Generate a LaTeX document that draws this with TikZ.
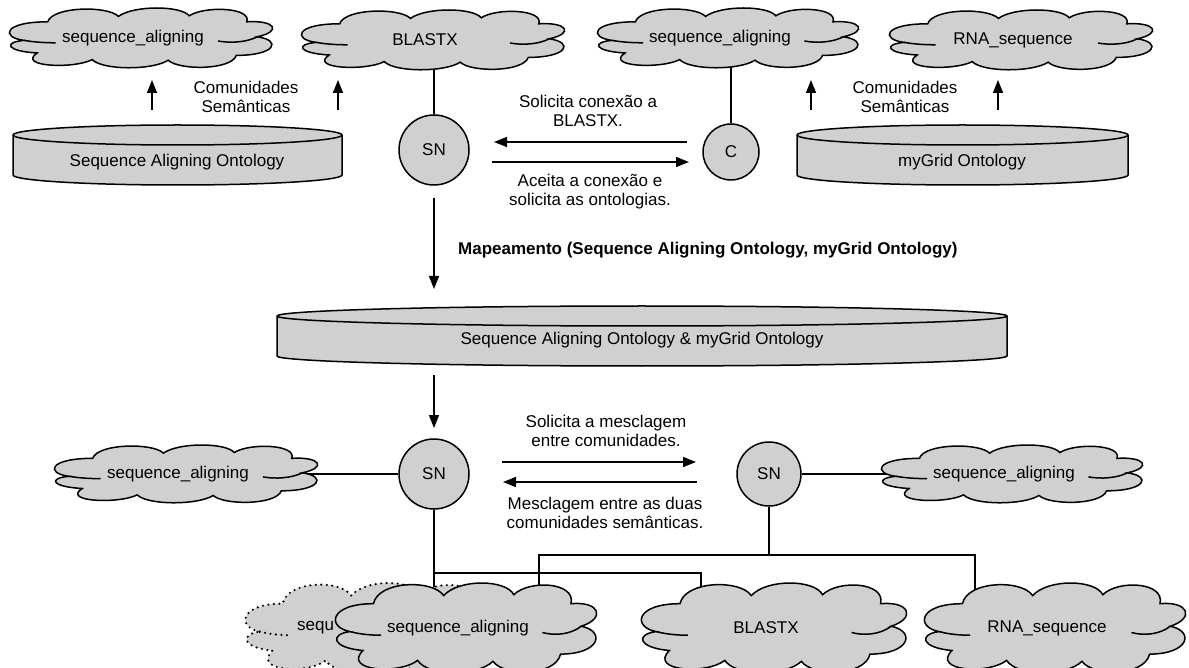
\documentclass[tikz,border=0pt]{standalone}
\usepackage{fontspec}
\setmainfont{Liberation Sans}
\usepackage{tikz}
\usetikzlibrary{arrows.meta, positioning, backgrounds}

\definecolor{cinza}{RGB}{208,208,208}

\tikzset{
  rotulo/.style={font=\fontsize{17}{19}\selectfont, align=center, inner sep=0pt},
  contorno/.style={draw=black, line width=1.5pt, fill=cinza},
  fantasma/.style={dash pattern=on 0pt off 5.5pt, line cap=round, line width=2.4pt},
  circulo/.style={circle, draw=black, line width=1.5pt, fill=cinza, inner sep=0pt,
    font=\fontsize{17}{19}\selectfont},
  seta/.style={line width=1.5pt, -{Triangle[length=13pt, width=10pt]}},
  linha/.style={line width=1.5pt},
}

% contorno da nuvem em unidades (-1..1)
\newcommand{\formanuvem}{%
  (-0.90,-0.08) .. controls (-1.08,0.02) and (-1.06,0.54) .. (-0.72,0.54)
  .. controls (-0.68,1.06) and (-0.26,1.08) .. (-0.18,0.72)
  .. controls (-0.06,1.10) and (0.30,1.08) .. (0.36,0.74)
  .. controls (0.48,1.08) and (0.84,1.02) .. (0.80,0.54)
  .. controls (1.02,0.60) and (1.07,0.22) .. (0.88,0.04)
  .. controls (1.07,-0.08) and (1.02,-0.58) .. (0.72,-0.58)
  .. controls (0.68,-1.08) and (0.28,-1.08) .. (0.20,-0.74)
  .. controls (0.08,-1.08) and (-0.30,-1.08) .. (-0.38,-0.72)
  .. controls (-0.52,-1.04) and (-0.96,-0.96) .. (-0.80,-0.50)
  .. controls (-1.04,-0.44) and (-1.06,-0.14) .. (-0.90,-0.08) -- cycle}
\newcommand{\ganchosnuvem}{%
  (-0.90,-0.08) .. controls (-0.82,-0.14) and (-0.74,-0.16) .. (-0.66,-0.16)
  (0.88,0.04) .. controls (0.80,-0.14) and (0.68,-0.18) .. (0.58,-0.10)}

% \nuvem[estilo]{nome}{x,y}{meia largura}{meia altura}{texto}
\newcommand{\nuvem}[6][]{%
  \begin{scope}[shift={(#3)}, x=#4pt, y=#5pt]
    \filldraw[contorno, #1] \formanuvem;
    \draw[linha, #1] \ganchosnuvem;
  \end{scope}
  \node[rotulo, xshift=-9pt] (#2) at (#3) {#6};
}

% \cilindro{x esq}{x dir}{centro elipse de cima}{centro elipse de baixo}
\newcommand{\cilindro}[4]{%
  \filldraw[contorno] (#1,#3) -- (#1,#4)
    arc[start angle=180, end angle=360, x radius={(#2-#1)/2}, y radius=10]
    -- (#2,#3)
    arc[start angle=0, end angle=180, x radius={(#2-#1)/2}, y radius=10] -- cycle;
  \draw[linha] (#1,#3)
    arc[start angle=180, end angle=360, x radius={(#2-#1)/2}, y radius=10];
}

\begin{document}
\begin{tikzpicture}[x=1pt, y=1pt]
  \useasboundingbox (0,0) rectangle (1189,-668);

  % Ontologias
  \cilindro{13}{342}{-135}{-175}
  \cilindro{797}{1128}{-135}{-175}
  \cilindro{277}{1007}{-316}{-356}
  \node[rotulo] (ontsa) at (177,-162) {Sequence Aligning Ontology};
  \node[rotulo] (ontmg) at (962,-162) {myGrid Ontology};
  \node[rotulo] (ontmix) at (642,-340) {Sequence Aligning Ontology \& myGrid Ontology};

  % Comunidades semanticas (linha de cima)
  \nuvem{tc1}{142,-38}{131}{30}{sequence\_aligning}
  \nuvem{tc2}{434,-40}{131}{30}{BLASTX}
  \nuvem{tc3}{729,-38}{130}{30}{sequence\_aligning}
  \nuvem{tc4}{1022,-40}{131}{30}{RNA\_sequence}

  \foreach \x [count=\i] in {152, 338, 811, 998} {
    \coordinate (cb\i) at (\x,-110);
    \coordinate (ct\i) at (\x,-80);
    \draw[seta] (cb\i) -- (ct\i);
  }
  \node[rotulo] (com1) at (246,-97) {Comunidades\\Semânticas};
  \node[rotulo] (com2) at (905,-97) {Comunidades\\Semânticas};

  % Conexao SN - C
  \node[circulo, minimum size=70pt] (sn1) at (434,-150) {SN};
  \node[circulo, minimum size=56pt] (c1) at (731,-152) {C};

  \coordinate (s1a) at (687,-142);
  \coordinate (s1b) at (494,-142);
  \coordinate (s2a) at (492,-162);
  \coordinate (s2b) at (689,-162);
  \draw[seta] (s1a) -- (s1b);
  \draw[seta] (s2a) -- (s2b);
  \node[rotulo] (msg1) at (588,-111) {Solicita conexão a\\BLASTX.};
  \node[rotulo] (msg2) at (590,-192) {Aceita a conexão e\\solicita as ontologias.};

  % Mapeamento
  \coordinate (mapa) at (434,-289);
  \draw[seta] ([yshift=-12pt]sn1.south) -- (mapa);
  \node[rotulo, font=\fontsize{17}{19}\selectfont\bfseries, anchor=west] (mapt) at (458,-250)
    {Mapeamento (Sequence Aligning Ontology, myGrid Ontology)};

  \coordinate (mesa) at (434,-375);
  \coordinate (mesb) at (434,-428);
  \draw[seta] (mesa) -- (mesb);

  % Mesclagem
  \node[circulo, minimum size=70pt] (sn3) at (434,-474) {SN};
  \node[circulo, minimum size=64pt] (sn4) at (769,-474) {SN};
  \nuvem{mc1}{187,-474}{131}{29}{sequence\_aligning}
  \nuvem{mc2}{1013,-474}{130}{29}{sequence\_aligning}

  \coordinate (m1a) at (502,-462);
  \coordinate (m1b) at (696,-462);
  \coordinate (m2a) at (697,-482);
  \coordinate (m2b) at (503,-482);
  \draw[seta] (m1a) -- (m1b);
  \draw[seta] (m2a) -- (m2b);
  \node[rotulo] (msg3) at (606,-431) {Solicita a mesclagem\\entre comunidades.};
  \node[rotulo] (msg4) at (605,-513) {Mesclagem entre as duas\\comunidades semânticas.};

  % Linha de baixo
  \nuvem[fantasma]{bg}{374,-628}{127}{45}{}
  \node[rotulo, anchor=west] (bgt) at (297,-628) {sequ};
  \nuvem{ba1}{467,-628}{130}{45}{sequence\_aligning}
  \nuvem{ba2}{775,-628}{132}{45}{BLASTX}
  \nuvem{ba3}{1056,-628}{130}{45}{RNA\_sequence}

  % Ligacoes (atras das formas)
  \coordinate (ja) at (769,-555);
  \coordinate (jb) at (434,-573);
  \begin{scope}[on background layer]
    \draw[linha] (sn1) -- (sn1 |- tc2);
    \draw[linha] (c1) -- (c1 |- tc3);
    \draw[linha] (mc1) -- (sn3);
    \draw[linha] (sn4) -- (mc2);
    \draw[linha] (sn3) -- (sn3 |- bg);
    \draw[linha] (jb) -| ([xshift=-65pt]ba2.center);
    \draw[linha] (sn4) -- (ja);
    \draw[linha] ([xshift=81pt]ba1.center) |- (ja) -| ([xshift=-72pt]ba3.center);
  \end{scope}
\end{tikzpicture}
\end{document}
